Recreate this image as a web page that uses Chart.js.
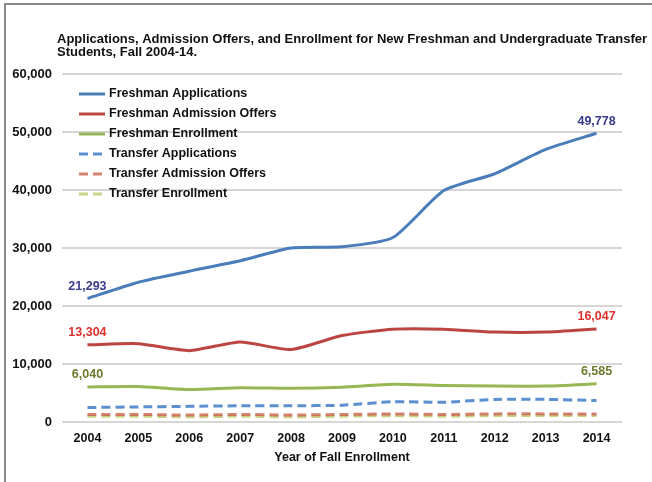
<!DOCTYPE html>
<html>
<head>
<meta charset="utf-8">
<script src="https://cdn.jsdelivr.net/npm/chart.js@4/dist/chart.umd.min.js"></script>
<style>
  html, body { margin: 0; padding: 0; background: #fff; }
  #wrap { position: relative; width: 652px; height: 482px; overflow: hidden; }
  #frame {
    position: absolute; left: 4px; top: 3px; right: -10px; bottom: -10px;
    border-top: 2px solid #8a8a8a; border-left: 2px solid #8a8a8a;
    pointer-events: none;
  }
</style>
</head>
<body>
<div id="wrap">
  <canvas id="chart" width="652" height="482"></canvas>
  <div id="frame"></div>
</div>
<script>
const years = ["2004", "2005", "2006", "2007", "2008", "2009", "2010", "2011", "2012", "2013", "2014"];
const freshApps = [21293, 24100, 26000, 27800, 30000, 30200, 31800, 39900, 42800, 47000, 49778];
const freshOffers = [13304, 13500, 12300, 13800, 12500, 14900, 16000, 16000, 15500, 15500, 16047];
const freshEnroll = [6040, 6100, 5600, 5900, 5800, 6000, 6500, 6300, 6200, 6200, 6585];
const transApps = [2500, 2600, 2700, 2800, 2800, 2900, 3500, 3400, 3900, 3900, 3700];
const transOffers = [1300, 1300, 1200, 1300, 1200, 1300, 1400, 1300, 1400, 1400, 1400];
const transEnroll = [1000, 1000, 900, 1000, 900, 1000, 1100, 1000, 1100, 1100, 1100];

const titleLines = [
    "Applications, Admission Offers, and Enrollment for New Freshman and Undergraduate Transfer",
    "Students, Fall 2004-14.",
];

const FONT = "'Liberation Sans', Arial, sans-serif";

// first / last point labels for the three freshman series
const endLabels = [
    { ds: 0, color: "#3b3b8c" },
    { ds: 1, color: "#e0302c" },
    { ds: 2, color: "#6b7b2c" },
];

const endLabelPlugin = {
    id: "endLabels",
    afterDatasetsDraw(chart) {
        const ctx = chart.ctx;
        ctx.save();
        ctx.font = "bold 12.5px " + FONT;
        ctx.textAlign = "center";
        ctx.textBaseline = "middle";
        endLabels.forEach(l => {
            const meta = chart.getDatasetMeta(l.ds);
            const data = chart.data.datasets[l.ds].data;
            [0, data.length - 1].forEach(i => {
                const pt = meta.data[i];
                ctx.fillStyle = l.color;
                ctx.fillText(data[i].toLocaleString("en-US"), pt.x, pt.y - 12);
            });
        });
        ctx.restore();
    }
};

// title is drawn by hand so it can run past the right edge like the original
const titlePlugin = {
    id: "clippedTitle",
    afterDraw(chart) {
        const ctx = chart.ctx;
        ctx.save();
        ctx.font = "bold 13px " + FONT;
        ctx.fillStyle = "#111";
        ctx.textBaseline = "middle";
        titleLines.forEach((t, i) => ctx.fillText(t, 57, 39 + i * 13));
        ctx.restore();
    }
};

const innerLegend = {
    id: "innerLegend",
    afterDraw(chart) {
        const ctx = chart.ctx;
        const area = chart.chartArea;
        ctx.save();
        ctx.font = "bold 12.5px " + FONT;
        ctx.textBaseline = "middle";
        chart.data.datasets.forEach((ds, i) => {
            const y = area.top + 20 + i * 20;
            const x = area.left + 17;
            ctx.strokeStyle = ds.borderColor;
            ctx.lineWidth = 3;
            ctx.setLineDash(ds.borderDash || []);
            ctx.beginPath();
            ctx.moveTo(x, y);
            ctx.lineTo(x + 26, y);
            ctx.stroke();
            ctx.setLineDash([]);
            ctx.fillStyle = "#111";
            ctx.fillText(ds.label, x + 30, y);
        });
        ctx.restore();
    }
};

const dash = [9, 5];

new Chart(document.getElementById("chart"), {
    type: "line",
    data: {
        labels: years,
        datasets: [
            { label: "Freshman Applications", data: freshApps, borderColor: "#4a7db9" },
            { label: "Freshman Admission Offers", data: freshOffers, borderColor: "#bc4542" },
            { label: "Freshman Enrollment", data: freshEnroll, borderColor: "#97b752" },
            { label: "Transfer Applications", data: transApps, borderColor: "#5b8fd0", borderDash: dash },
            { label: "Transfer Admission Offers", data: transOffers, borderColor: "rgba(200,90,70,0.75)", borderDash: dash },
            { label: "Transfer Enrollment", data: transEnroll, borderColor: "rgba(190,200,110,0.8)", borderDash: dash },
        ],
    },
    options: {
        responsive: false,
        animation: false,
        devicePixelRatio: 1,
        elements: {
            line: { borderWidth: 3, tension: 0.2, fill: false },
            point: { radius: 0 },
        },
        layout: { padding: { left: 6, right: 30, top: 74, bottom: 14 } },
        plugins: {
            legend: { display: false },
            tooltip: { enabled: false },
            title: { display: false },
        },
        scales: {
            x: {
                offset: true,
                grid: { display: false, drawTicks: false },
                border: { display: false },
                ticks: { color: "#111", padding: 9, font: { family: FONT, size: 12.5, weight: "bold" } },
                title: {
                    display: true,
                    text: "Year of Fall Enrollment",
                    color: "#111",
                    font: { family: FONT, size: 12.5, weight: "bold" },
                    padding: { top: 4, bottom: 3 },
                },
                afterFit(scale) { scale.height = 46; },
            },
            y: {
                min: 0,
                max: 60000,
                grid: { color: "#d6d6d6", lineWidth: 2, drawTicks: false },
                border: { display: false },
                ticks: {
                    stepSize: 10000,
                    color: "#111",
                    padding: 10,
                    font: { family: FONT, size: 13, weight: "bold" },
                    callback: v => v.toLocaleString("en-US"),
                },
                afterFit(scale) { scale.width = 56; },
            },
        },
    },
    plugins: [endLabelPlugin, innerLegend, titlePlugin],
});
</script>
</body>
</html>
